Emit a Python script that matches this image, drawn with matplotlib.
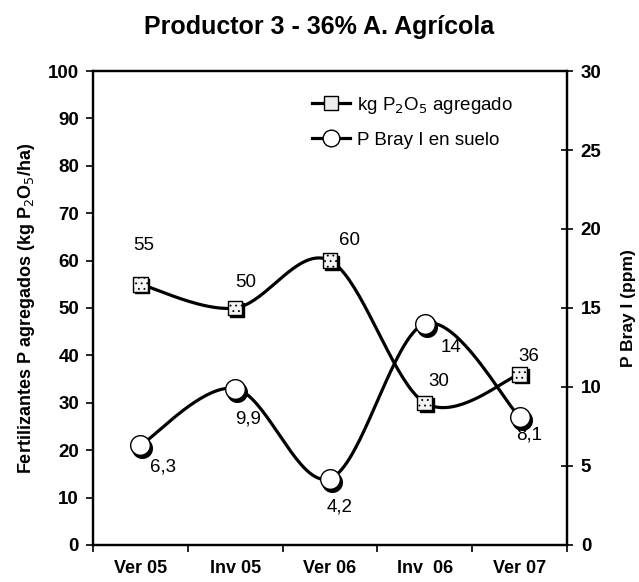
#!/usr/bin/env python3
import matplotlib as mpl
mpl.use('Agg')
import matplotlib.pyplot as plt
import matplotlib.transforms as mtransforms
import numpy as np

plt.rcParams['font.family'] = ['Liberation Sans', 'DejaVu Sans']
plt.rcParams['hatch.color'] = '#a0a0a0'
plt.rcParams['hatch.linewidth'] = 0.6

# data
categories = ['Ver 05', 'Inv 05', 'Ver 06', 'Inv  06', 'Ver 07']
kg_p2o5 = [55, 50, 60, 30, 36]
p_bray = [6.3, 9.9, 4.2, 14, 8.1]
kg_labels = ['55', '50', '60', '30', '36']
bray_labels = ['6,3', '9,9', '4,2', '14', '8,1']

# label offsets in pixels (dx, dy with y going up)
kg_off = [(3, 39), (11, 25), (20, 20), (14, 21), (9, 18)]
bray_off = [(23, -22), (13, -30), (10, -28), (26, -24), (10, -18)]


def smooth(xs, ys, xr, yr, n=40):
    # catmull-rom through the points, done in normalised units
    x = np.asarray(xs, float) / xr
    y = np.asarray(ys, float) / yr
    P = np.column_stack([x, y])
    P = np.vstack([P[0], P, P[-1]])
    out = []
    t = np.linspace(0, 1, n)[:, None]
    for i in range(1, len(P) - 2):
        p0, p1, p2, p3 = P[i - 1], P[i], P[i + 1], P[i + 2]
        c1 = p1 + (p2 - p0) / 6.
        c2 = p2 - (p3 - p1) / 6.
        seg = ((1 - t) ** 3 * p1 + 3 * (1 - t) ** 2 * t * c1
               + 3 * (1 - t) * t ** 2 * c2 + t ** 3 * p2)
        out.append(seg if i == 1 else seg[1:])
    out = np.vstack(out)
    return out[:, 0] * xr, out[:, 1] * yr


fig = plt.figure(figsize=(6.39, 5.82), dpi=100)
ax = fig.add_axes([0.1455, 0.0636, 0.7418, 0.8144])
ax2 = ax.twinx()

xs = np.arange(len(categories))
lw = 2.3

sx, sy = smooth(xs, kg_p2o5, 5., 100.)
ax.plot(sx, sy, color='black', lw=lw, zorder=2)
bx, by = smooth(xs, p_bray, 5., 30.)
ax2.plot(bx, by, color='black', lw=lw, zorder=2)

# shadows for markers
sh_sq = mtransforms.offset_copy(ax.transData, fig=fig, x=2, y=-2, units='dots')
sh_ci = mtransforms.offset_copy(ax2.transData, fig=fig, x=2, y=-3, units='dots')
ax.scatter(xs, kg_p2o5, s=110, marker='s', color='black', transform=sh_sq, zorder=3)
ax.scatter(xs, kg_p2o5, s=110, marker='s', facecolor='#f4f4f4', edgecolor='black',
           linewidths=1.0, hatch='...', zorder=4)
ax2.scatter(xs, p_bray, s=200, marker='o', color='black', transform=sh_ci, zorder=3)
ax2.scatter(xs, p_bray, s=200, marker='o', facecolor='white', edgecolor='black',
            linewidths=1.0, zorder=4)

for i in range(len(xs)):
    ax.annotate(kg_labels[i], (xs[i], kg_p2o5[i]), xytext=kg_off[i],
                textcoords='offset pixels', ha='center', va='center', fontsize=13.5)
    ax2.annotate(bray_labels[i], (xs[i], p_bray[i]), xytext=bray_off[i],
                 textcoords='offset pixels', ha='center', va='center', fontsize=13.5)

ax.set_xlim(-0.5, len(categories) - 0.5)
ax.set_ylim(0, 100)
ax2.set_ylim(0, 30)
ax.set_yticks(np.arange(0, 101, 10))
ax2.set_yticks(np.arange(0, 31, 5))
ax.set_xticks(xs)
ax.set_xticklabels(categories, fontsize=13, fontweight='bold')
ax.set_xticks(np.arange(-0.5, len(categories)), minor=True)
ax.tick_params(axis='x', which='major', length=0, pad=11)
ax.tick_params(axis='x', which='minor', length=5, width=1.2, direction='out')
ax.tick_params(axis='y', length=5, width=1.2, direction='out', labelsize=13.5, pad=5)
ax2.tick_params(axis='y', length=8, width=1.2, direction='inout', labelsize=13.5, pad=6)
for lab in ax.get_yticklabels() + ax2.get_yticklabels():
    lab.set_fontweight('bold')

for a in (ax, ax2):
    for s in a.spines.values():
        s.set_linewidth(1.6)

ax.set_ylabel('Fertilizantes P agregados (kg P$_2$O$_5$/ha)', fontsize=13,
              fontweight='bold', labelpad=8)
ax2.set_ylabel('P Bray I (ppm)', fontsize=12.5, fontweight='bold', labelpad=14)
fig.suptitle('Productor 3 - 36% A. Agrícola', x=0.5, y=0.953, va='center',
             fontsize=18, fontweight='bold')

h1, = ax.plot([], [], color='black', lw=lw, marker='s', markersize=10,
              markerfacecolor='#ececec', markeredgecolor='black')
h2, = ax.plot([], [], color='black', lw=lw, marker='o', markersize=12,
              markerfacecolor='white', markeredgecolor='black')
ax.legend([h1, h2], ['kg P$_2$O$_5$ agregado', 'P Bray I en suelo'],
          loc='upper left', bbox_to_anchor=(0.427, 0.985), frameon=False,
          fontsize=13.5, handlelength=2.0, handletextpad=0.4, labelspacing=0.85)

fig.savefig('out.png', dpi=100)
